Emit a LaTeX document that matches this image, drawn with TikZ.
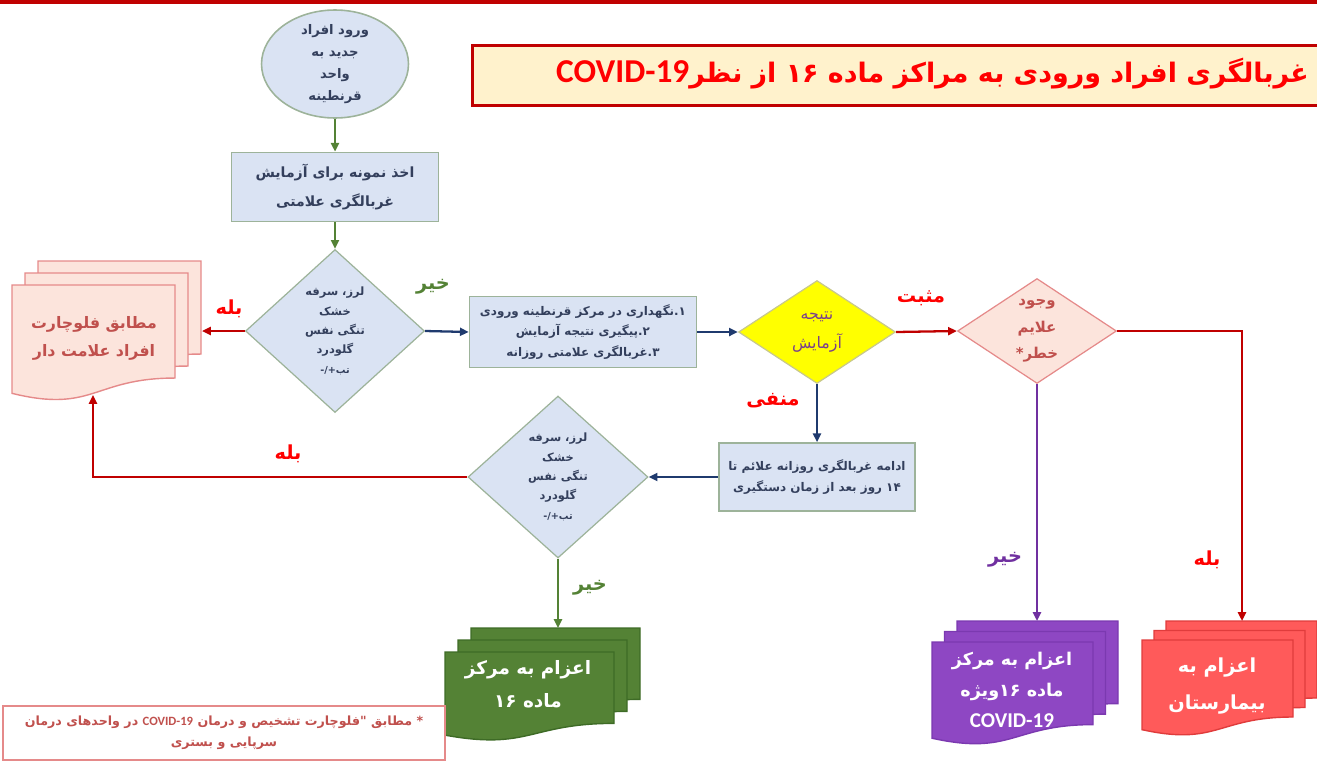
\documentclass[tikz,border=0pt]{standalone}
\usepackage{fontspec}
\usepackage{tikz}
\usetikzlibrary{shapes.geometric,arrows.meta}
\TeXXeTstate=1
\setmainfont{DejaVu Sans}
\newfontfamily\arabicfont[Script=Arabic]{DejaVu Sans}
\newfontfamily\latinfont{Carlito}
\newcommand{\fa}[1]{{\arabicfont\beginR #1\endR}}
\newcommand{\en}[1]{\beginL{\latinfont #1}\endL{}}

\definecolor{boxblue}{HTML}{DAE3F3}
\definecolor{boxrim}{HTML}{9DB39A}
\definecolor{inkblue}{HTML}{333F5C}
\definecolor{navy}{HTML}{1F3A6E}
\definecolor{leaf}{HTML}{548235}
\definecolor{leafrim}{HTML}{3E6B26}
\definecolor{darkred}{HTML}{C00000}
\definecolor{brightred}{HTML}{FF0000}
\definecolor{peach}{HTML}{FCE4DC}
\definecolor{peachrim}{HTML}{E58A8A}
\definecolor{rosetext}{HTML}{C0504D}
\definecolor{plum}{HTML}{8E47C3}
\definecolor{plumrim}{HTML}{7B39B0}
\definecolor{plumtext}{HTML}{7030A0}
\definecolor{salmon}{HTML}{FF5A5A}
\definecolor{salmonrim}{HTML}{E03C3C}
\definecolor{cream}{HTML}{FFF2CC}
\definecolor{lemon}{HTML}{FFFF00}
\definecolor{lemonrim}{HTML}{C8C88C}
\definecolor{mauve}{HTML}{7A3F8C}

\newcommand{\docpage}[5][]{%
    \path[#1] (#2,#3) -- (#2+#4,#3) -- (#2+#4,#3+0.802*#5)
        .. controls (#2+0.5*#4,#3+0.802*#5) and (#2+0.5*#4,#3+1.107*#5) .. (#2,#3+0.934*#5) -- cycle;}
\newcommand{\docstack}[7][]{%
    \docpage[#1]{#2+2*#6}{#3-2*#7}{#4}{#5}
    \docpage[#1]{#2+#6}{#3-#7}{#4}{#5}
    \docpage[#1]{#2}{#3}{#4}{#5}}

\begin{document}
\begin{tikzpicture}[x=0.02cm, y=-0.02cm, >={Triangle[length=5pt,width=4.5pt]},
    bluebox/.style={draw=boxrim, fill=boxblue, line width=0.9pt, text=inkblue, align=center,
        font=\fontsize{7.5}{12}\selectfont\bfseries},
    ask/.style={diamond, draw=boxrim, fill=boxblue, line width=0.7pt, text=inkblue, align=center,
        inner sep=0pt, font=\fontsize{6.5}{11}\selectfont\bfseries},
    doctext/.style={text=white, align=center, font=\fontsize{10.5}{19}\selectfont\bfseries},
    tag/.style={font=\fontsize{11}{13}\selectfont\bfseries},
    flow/.style={->, line width=1.3pt}]
\useasboundingbox (0,0) rectangle (1317,771);
\clip (0,0) rectangle (1317,771);
\draw[darkred, line width=2.2pt] (0,2) -- (1317,2);

\node[draw=darkred, fill=cream, line width=1.6pt, anchor=north west,
    minimum width=18cm, minimum height=1.2cm] (titlebox) at (471,44) {};
\node[anchor=west, text=brightred, font=\fontsize{15.3}{18}\selectfont\bfseries] (title) at (550,74)
    {\fa{غربالگری افراد ورودی به مراکز ماده ۱۶ از نظر\en{\fontsize{19}{20}\selectfont COVID-19}}};

\node[ellipse, draw=boxrim, fill=boxblue, line width=0.9pt, text=inkblue, align=center,
    minimum width=2.94cm, minimum height=2.16cm, inner xsep=0pt, inner ysep=-12pt,
    font=\fontsize{7.5}{12.5}\selectfont\bfseries] (entry) at (335,64)
    {\fa{ورود افراد}\\\fa{جدید به}\\\fa{واحد}\\\fa{قرنطینه}};
\node[bluebox, minimum width=4.14cm, minimum height=1.38cm, font=\fontsize{8}{16}\selectfont\bfseries]
    (sample) at (335,187) {\fa{اخذ نمونه برای آزمایش}\\\fa{غربالگری علامتی}};
\node[ask, minimum width=3.58cm, minimum height=3.26cm] (symptom1) at (335,331)
    {\fa{لرز، سرفه}\\\fa{خشک}\\\fa{تنگی نفس}\\\fa{گلودرد}\\\fa{{\fontsize{5.5}{11}\selectfont تب+/-}}};
\node[bluebox, minimum width=4.54cm, minimum height=1.42cm, font=\fontsize{6.8}{11.4}\selectfont\bfseries]
    (care) at (583,332) {\fa{۱.نگهداری در مرکز قرنطینه ورودی}\\\fa{۲.پیگیری نتیجه آزمایش}\\\fa{۳.غربالگری علامتی روزانه}};
\node[ask, fill=lemon, draw=lemonrim, text=mauve, minimum width=3.14cm, minimum height=2.06cm,
    font=\fontsize{9}{17}\selectfont] (result) at (817,332) {\fa{نتیجه}\\\fa{آزمایش}};
\node[ask, fill=peach, draw=peachrim, text=rosetext, minimum width=3.18cm, minimum height=2.08cm,
    font=\fontsize{8.5}{15}\selectfont\bfseries] (danger) at (1037,331) {\fa{وجود}\\\fa{علایم}\\\fa{خطر*}};
\node[bluebox, minimum width=3.92cm, minimum height=1.36cm, font=\fontsize{6.8}{12.5}\selectfont\bfseries]
    (daily) at (817,477) {\fa{ادامه غربالگری روزانه علائم تا}\\\fa{۱۴ روز بعد از زمان دستگیری}};
\node[ask, minimum width=3.6cm, minimum height=3.24cm] (symptom2) at (558,477)
    {\fa{لرز، سرفه}\\\fa{خشک}\\\fa{تنگی نفس}\\\fa{گلودرد}\\\fa{{\fontsize{5.5}{11}\selectfont تب+/-}}};

\docstack[fill=peach, draw=peachrim, line width=0.8pt]{12}{285}{163}{116}{13}{12}
\node[doctext, text=rosetext, font=\fontsize{9}{16}\selectfont\bfseries] (marked) at (94,338)
    {\fa{مطابق فلوچارت}\\\fa{افراد علامت دار}};
\docstack[fill=leaf, draw=leafrim, line width=0.8pt]{445}{652}{169}{89}{13}{12}
\node[doctext] (toward16) at (528,684) {\fa{اعزام به مرکز}\\\fa{ماده ۱۶}};
\docstack[fill=plum, draw=plumrim, line width=0.8pt]{932}{642}{161}{103}{12.5}{10.5}
\node[doctext, font=\fontsize{10}{17.5}\selectfont\bfseries] (special16) at (1012,690)
    {\fa{اعزام به مرکز}\\\fa{ماده ۱۶ویژه}\\\en{\fontsize{12}{17.5}\selectfont COVID-19}};
\docstack[fill=salmon, draw=salmonrim, line width=0.8pt]{1142}{640}{151}{96}{12}{9.5}
\node[doctext, font=\fontsize{11}{21}\selectfont\bfseries] (hospital) at (1217,686)
    {\fa{اعزام به}\\\fa{بیمارستان}};

\coordinate (markedR) at (202,331);
\coordinate (markedB) at (93,395);
\coordinate (toward16T) at (558,628);
\coordinate (special16T) at (1037,621);
\coordinate (hospitalT) at (1242,621);

\draw[flow, leaf] (entry) -- (sample);
\draw[flow, leaf] (sample) -- (symptom1);
\draw[flow, darkred] (symptom1.west) -- (markedR);
\draw[flow, navy] (symptom1.east) -- (care.west);
\draw[flow, navy] (care.east) -- (result.west);
\draw[flow, darkred] (result.east) -- (danger.west);
\draw[flow, navy] (result.south) -- (daily.north);
\draw[flow, navy] (daily.west) -- (symptom2.east);
\draw[flow, darkred] (symptom2.west) -| (markedB);
\draw[flow, leaf] (symptom2.south) -- (toward16T);
\draw[flow, plumtext] (danger.south) -- (special16T);
\draw[flow, darkred] (danger.east) -| (hospitalT);

\node[tag, text=brightred] (yes1) at (229,309) {\fa{بله}};
\node[tag, text=leaf] (no1) at (433,287) {\fa{خیر}};
\node[tag, text=brightred] (positive) at (921,298) {\fa{مثبت}};
\node[tag, text=brightred] (negative) at (773,401) {\fa{منفی}};
\node[tag, text=brightred] (yes2) at (288,454) {\fa{بله}};
\node[tag, text=leaf] (no2) at (590,588) {\fa{خیر}};
\node[tag, text=plumtext] (no3) at (1005,560) {\fa{خیر}};
\node[tag, text=brightred] (yes3) at (1207,560) {\fa{بله}};

\node[draw=peachrim, line width=1pt, fill=white, minimum width=8.84cm, minimum height=1.08cm,
    align=center, text=rosetext, font=\fontsize{7.2}{12}\selectfont\bfseries] (footnote) at (224,733)
    {\fa{* مطابق "فلوچارت تشخیص و درمان \en{COVID-19} در واحدهای درمان}\\\fa{سرپایی و بستری}};
\end{tikzpicture}
\end{document}
